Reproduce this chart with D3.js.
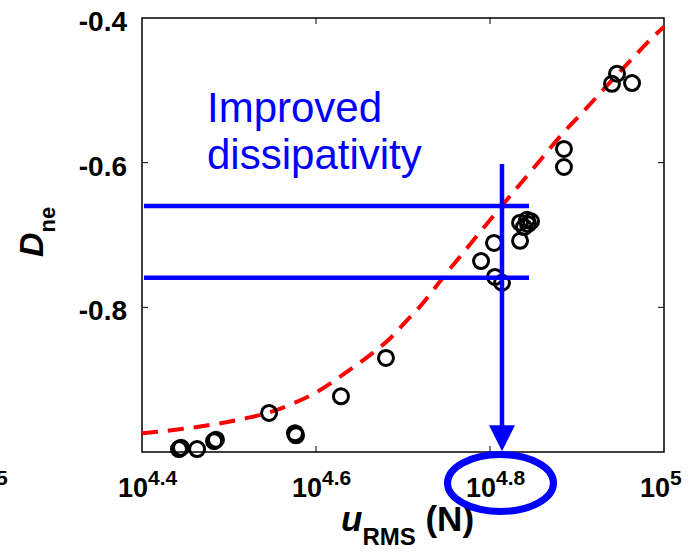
<!DOCTYPE html>
<html>
<head>
<meta charset="utf-8">
<script src="https://cdn.jsdelivr.net/npm/d3@7/dist/d3.min.js"></script>
<style>
    body { margin: 0; background: #fff; }
    text { font-family: Arial, "Liberation Sans", sans-serif; }
</style>
</head>
<body>
<div id="chart"></div>
<script>
///////////////////////////////////////////////////////////////////////////
////////////////////////////// Data ///////////////////////////////////////
///////////////////////////////////////////////////////////////////////////
// measured points: u_RMS (N) and D_ne
var pointU = [27700, 27850, 29060, 30550, 30400, 35160, 37660, 37760, 42530, 47910,
              61620, 63770, 63930, 65130, 68320, 68320, 69040, 69580, 70330, 69770,
              76740, 76740, 87130, 88310, 91890];
var pointD = [-0.996, -0.994, -0.996, -0.983, -0.985, -0.946, -0.974, -0.977, -0.923, -0.870,
              -0.736, -0.711, -0.758, -0.766, -0.708, -0.683, -0.689, -0.679, -0.681, -0.685,
              -0.581, -0.606, -0.491, -0.477, -0.490];

// fitted curve (red dashed)
var fitU = [25119, 28010, 30310, 33160, 35240, 37460, 39910, 42750, 45920, 48420, 50650,
            52420, 55700, 59840, 63940, 67410, 72020, 75930, 81550, 86670, 92110, 98160, 100000];
var fitD = [-0.974, -0.968, -0.962, -0.953, -0.945, -0.933, -0.917, -0.893, -0.866, -0.843, -0.818,
            -0.799, -0.759, -0.713, -0.671, -0.638, -0.597, -0.564, -0.524, -0.489, -0.455, -0.421, -0.412];

// axis ticks
var xTickExp = ["4.4", "4.6", "4.8", "5"];
var xTickVals = [25119, 39811, 63096, 100000];
var yTickVals = [-0.4, -0.6, -0.8];
var yTickLabels = ["-0.4", "-0.6", "-0.8"];

// annotation
var annoText = ["Improved", "dissipativity"];
var annoLevels = [-0.660, -0.759];    // horizontal blue lines
var annoLineU = [25250, 69960];       // extent of the horizontal lines
var annoArrowU = 65130;               // vertical arrow
var annoArrowD = [-0.602, -0.999];

///////////////////////////////////////////////////////////////////////////
////////////////////////////// Setup //////////////////////////////////////
///////////////////////////////////////////////////////////////////////////
var width = 692,
    height = 555,
    margin = {left: 142, top: 18, right: 28, bottom: 103};

var svg = d3.select("#chart").append("svg")
    .attr("width", width)
    .attr("height", height);

var x = d3.scaleLog()
    .domain([25119, 100000])
    .range([margin.left, width - margin.right]);

var y = d3.scaleLinear()
    .domain([-1.0, -0.4])
    .range([height - margin.bottom, margin.top]);

var x0 = x.range()[0], x1 = x.range()[1],
    y0 = y.range()[0], y1 = y.range()[1];

var fitData = fitU.map(function (d, i) { return {u: d, D: fitD[i]}; });
var pointData = pointU.map(function (d, i) { return {u: d, D: pointD[i]}; });

//Axes box
svg.append("rect")
    .attr("x", x0).attr("y", y1)
    .attr("width", x1 - x0).attr("height", y0 - y1)
    .style("fill", "none")
    .style("stroke", "#000")
    .style("stroke-width", 1.5);

//Inward ticks on all four sides
var tickLen = 6;
xTickVals.slice(1, 3).forEach(function (v) {
    svg.append("line").attr("x1", x(v)).attr("x2", x(v)).attr("y1", y0).attr("y2", y0 - tickLen)
        .style("stroke", "#000").style("stroke-width", 1);
    svg.append("line").attr("x1", x(v)).attr("x2", x(v)).attr("y1", y1).attr("y2", y1 + tickLen)
        .style("stroke", "#000").style("stroke-width", 1);
});
yTickVals.slice(1).forEach(function (v) {
    svg.append("line").attr("x1", x0).attr("x2", x0 + tickLen).attr("y1", y(v)).attr("y2", y(v))
        .style("stroke", "#000").style("stroke-width", 1);
    svg.append("line").attr("x1", x1).attr("x2", x1 - tickLen).attr("y1", y(v)).attr("y2", y(v))
        .style("stroke", "#000").style("stroke-width", 1);
});

//Y tick labels
svg.selectAll(".yTick")
    .data(yTickVals)
    .enter().append("text")
    .attr("class", "yTick")
    .attr("x", x0 - 15)
    .attr("y", function (d) { return y(d) + 13; })
    .attr("text-anchor", "end")
    .style("font-size", "28px")
    .style("font-weight", "bold")
    .text(function (d, i) { return yTickLabels[i]; });

//X tick labels: 10 with superscript exponent
var xLab = svg.selectAll(".xTick")
    .data(xTickVals)
    .enter().append("text")
    .attr("class", "xTick")
    .attr("x", function (d) { return x(d) - 24; })
    .attr("y", y0 + 45)
    .style("font-size", "27px")
    .style("font-weight", "bold");
xLab.append("tspan").text("10");
xLab.append("tspan")
    .attr("dy", -12)
    .style("font-size", "21px")
    .text(function (d, i) { return xTickExp[i]; });

//clipped label of the neighbouring panel
svg.append("text")
    .attr("x", -4)
    .attr("y", y0 + 33)
    .style("font-size", "21px")
    .style("font-weight", "bold")
    .text("5");

//Axis titles
var yTitle = svg.append("text")
    .attr("transform", "translate(43,257) rotate(-90)")
    .style("font-size", "34px")
    .style("font-weight", "bold");
yTitle.append("tspan").style("font-style", "italic").text("D");
yTitle.append("tspan").attr("dy", 12).style("font-size", "22px").text("ne");

var xTitle = svg.append("text")
    .attr("x", 341)
    .attr("y", 531)
    .style("font-size", "35px")
    .style("font-weight", "bold");
xTitle.append("tspan").style("font-style", "italic").text("u");
xTitle.append("tspan").attr("dy", 14).style("font-size", "24px").text("RMS");
xTitle.append("tspan").attr("dy", -14).text(" (N)");

///////////////////////////////////////////////////////////////////////////
////////////////////////////// Marks //////////////////////////////////////
///////////////////////////////////////////////////////////////////////////
var line = d3.line()
    .x(function (d) { return x(d.u); })
    .y(function (d) { return y(d.D); })
    .curve(d3.curveMonotoneX);

svg.append("path")
    .datum(fitData)
    .attr("d", line)
    .style("fill", "none")
    .style("stroke", "#ff0000")
    .style("stroke-width", 4)
    .style("stroke-dasharray", "16,10");

svg.selectAll(".dot")
    .data(pointData)
    .enter().append("circle")
    .attr("class", "dot")
    .attr("cx", function (d) { return x(d.u); })
    .attr("cy", function (d) { return y(d.D); })
    .attr("r", 7.5)
    .style("fill", "none")
    .style("stroke", "#000")
    .style("stroke-width", 3);

///////////////////////////////////////////////////////////////////////////
//////////////////////////// Annotation ///////////////////////////////////
///////////////////////////////////////////////////////////////////////////
var blue = "#0000ff";

annoLevels.forEach(function (v) {
    svg.append("line")
        .attr("x1", x(annoLineU[0])).attr("x2", x(annoLineU[1]))
        .attr("y1", y(v)).attr("y2", y(v))
        .style("stroke", blue)
        .style("stroke-width", 4.5);
});

var ax = x(annoArrowU),
    headLen = 26,
    headHalf = 13;

svg.append("line")
    .attr("x1", ax).attr("x2", ax)
    .attr("y1", y(annoArrowD[0])).attr("y2", y(annoArrowD[1]) - headLen + 2)
    .style("stroke", blue)
    .style("stroke-width", 4.5);

svg.append("path")
    .attr("d", "M" + ax + "," + y(annoArrowD[1]) +
        "L" + (ax - headHalf) + "," + (y(annoArrowD[1]) - headLen) +
        "L" + (ax + headHalf) + "," + (y(annoArrowD[1]) - headLen) + "Z")
    .style("fill", blue);

//ellipse round the 10^4.8 tick label
svg.append("ellipse")
    .attr("cx", x(xTickVals[2]) + 10.5)
    .attr("cy", y0 + 31)
    .attr("rx", 53)
    .attr("ry", 28.5)
    .style("fill", "none")
    .style("stroke", blue)
    .style("stroke-width", 7);

svg.selectAll(".annoText")
    .data(annoText)
    .enter().append("text")
    .attr("class", "annoText")
    .attr("x", 207)
    .attr("y", function (d, i) { return 122 + i * 47; })
    .style("font-size", "42px")
    .style("fill", blue)
    .text(function (d) { return d; });
</script>
</body>
</html>
